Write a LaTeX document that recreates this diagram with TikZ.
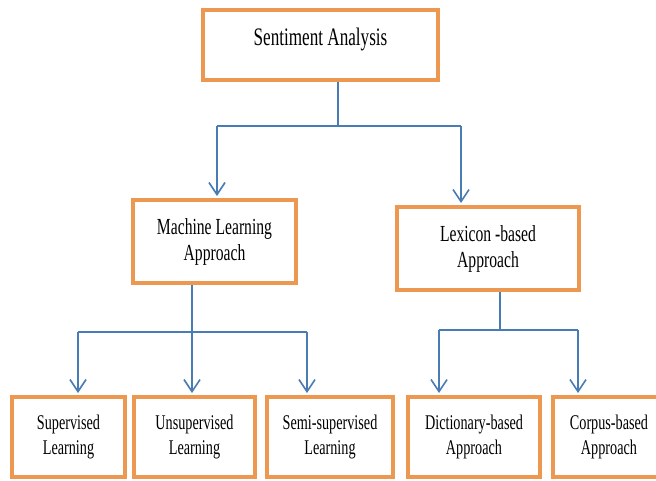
\documentclass[tikz,border=0pt]{standalone}
\usepackage{fontspec}
\setmainfont{Liberation Serif}[FakeStretch=0.68]
\usetikzlibrary{arrows.meta}
\definecolor{boxorange}{RGB}{236,152,80}
\definecolor{lineblue}{RGB}{74,124,180}
\tikzset{
  obox/.style={draw=boxorange, line width=4pt, fill=white, align=center, inner sep=0pt},
  toptext/.style={font=\fontsize{25.2}{30}\selectfont},
  midtext/.style={font=\fontsize{23}{26}\selectfont},
  bottext/.style={font=\fontsize{20.9}{25}\selectfont},
  conn/.style={draw=lineblue, line width=1.6pt},
  arr/.style={conn, -{Straight Barb[length=12pt,width=16pt,line width=1.6pt]}, shorten >=2pt}
}
\begin{document}
\begin{tikzpicture}[x=1pt,y=-1pt]
\clip (0,0) rectangle (656,480);
\fill[white] (0,0) rectangle (656,480);
% boxes
\node[obox, toptext, minimum width=235pt, minimum height=70pt, text height=17pt, text depth=17pt] (sa) at (320.5,45) {Sentiment Analysis};
\node[obox, midtext, minimum width=163pt, minimum height=83pt] (ml) at (214.5,241.5) {Machine Learning\\Approach};
\node[obox, midtext, minimum width=182pt, minimum height=83pt] (lx) at (488,248.5) {Lexicon -based\\Approach};
\node[obox, bottext, minimum width=113pt, minimum height=80pt] (sup) at (68.5,437) {Supervised\\Learning};
\node[obox, bottext, minimum width=121pt, minimum height=80pt] (uns) at (194.5,437) {Unsupervised\\Learning};
\node[obox, bottext, minimum width=126pt, minimum height=80pt] (semi) at (330,437) {Semi-supervised\\Learning};
\node[obox, bottext, minimum width=132pt, minimum height=80pt] (dict) at (474,437) {Dictionary-based\\Approach};
\node[obox, bottext, minimum width=112pt, minimum height=80pt] (corp) at (609,437) {Corpus-based\\Approach};
% junctions
\coordinate (j1) at (338,126);
\coordinate (j1l) at (217,126);
\coordinate (j1r) at (461,126);
\coordinate (j2) at (192,332);
\coordinate (j2l) at (78,332);
\coordinate (j2r) at (307,332);
\coordinate (j3) at (500,330);
\coordinate (j3l) at (439,330);
\coordinate (j3r) at (578,330);
% top level
\draw[conn] (j1 |- sa.south) -- (j1);
\draw[conn] (j1l) -- (j1r);
\draw[arr] (j1l) -- (j1l |- ml.north);
\draw[arr] (j1r) -- (j1r |- lx.north);
% machine learning
\draw[conn] (j2 |- ml.south) -- (j2);
\draw[conn] (j2l) -- (j2r);
\draw[arr] (j2l) -- (j2l |- sup.north);
\draw[arr] (j2) -- (j2 |- uns.north);
\draw[arr] (j2r) -- (j2r |- semi.north);
% lexicon
\draw[conn] (j3 |- lx.south) -- (j3);
\draw[conn] (j3l) -- (j3r);
\draw[arr] (j3l) -- (j3l |- dict.north);
\draw[arr] (j3r) -- (j3r |- corp.north);
\end{tikzpicture}
\end{document}
